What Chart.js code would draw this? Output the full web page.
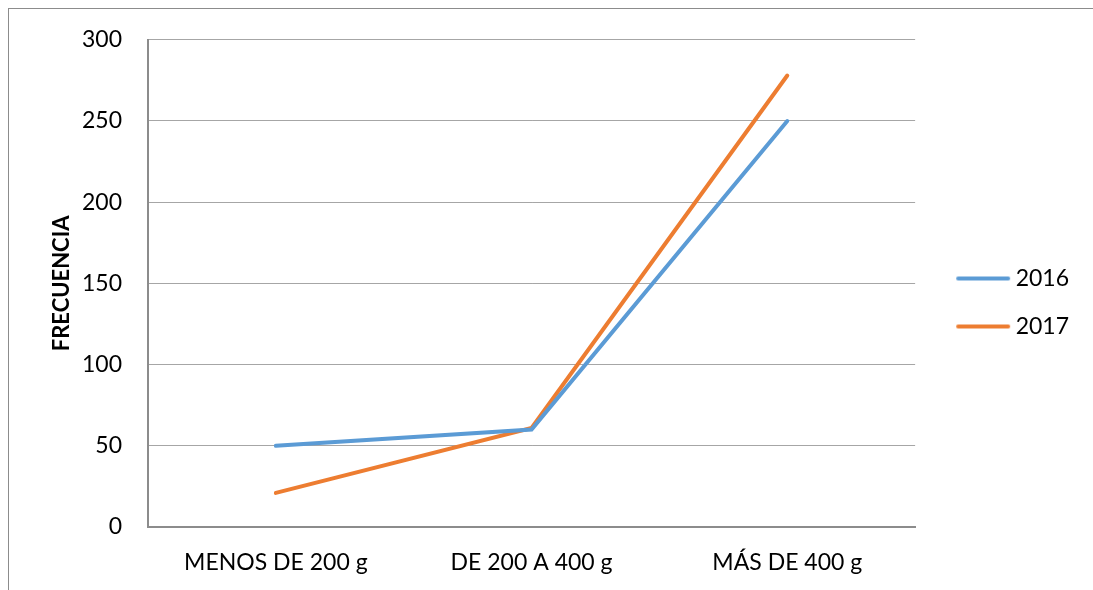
<!DOCTYPE html>
<html>
<head>
<meta charset="utf-8">
<script src="https://cdn.jsdelivr.net/npm/chart.js@4/dist/chart.umd.min.js"></script>
<style>
  html, body { margin: 0; padding: 0; background: #fff; }
  #wrap { width: 1093px; height: 590px; }
</style>
</head>
<body>
<div id="wrap"><canvas id="freqChart"></canvas></div>
<script>
var categories = ['MENOS DE 200 g', 'DE 200 A 400 g', 'MÁS DE 400 g'];
var serie2016 = [50, 60, 250];
var serie2017 = [21, 61, 278];
var yTicks = [0, 50, 100, 150, 200, 250, 300];

var blue = '#5b9bd5';
var orange = '#ed7d31';

Chart.defaults.font.family = 'Lato, "Open Sans", sans-serif';
Chart.defaults.font.size = 23;
Chart.defaults.color = '#000';

// legend marker: a short line with some empty space in front of it
function legendLine(color) {
    var c = document.createElement('canvas');
    c.width = 80;
    c.height = 6;
    var g = c.getContext('2d');
    g.strokeStyle = color;
    g.lineWidth = 4;
    g.lineCap = 'round';
    g.beginPath();
    g.moveTo(26, 3);
    g.lineTo(76, 3);
    g.stroke();
    return c;
}

// outer frame of the chart (cut off on the right and bottom in the original)
var framePlugin = {
    id: 'frame',
    beforeDraw: function(chart) {
        var c = chart.ctx;
        c.save();
        c.fillStyle = '#fff';
        c.fillRect(0, 0, chart.width, chart.height);
        c.strokeStyle = '#8c8c8c';
        c.lineWidth = 1;
        c.strokeRect(8.5, 8.5, 3000, 3000);
        c.restore();
    }
};

var ctx = document.getElementById('freqChart').getContext('2d');

var chart = new Chart(ctx, {
    type: 'line',
    data: {
        labels: categories,
        datasets: [{
            label: '2016',
            data: serie2016,
            borderColor: blue,
            backgroundColor: blue,
            borderWidth: 4,
            pointRadius: 0,
            pointStyle: legendLine(blue),
            tension: 0,
            borderCapStyle: 'round'
        }, {
            label: '2017',
            data: serie2017,
            borderColor: orange,
            backgroundColor: orange,
            borderWidth: 4,
            pointRadius: 0,
            pointStyle: legendLine(orange),
            tension: 0,
            borderCapStyle: 'round'
        }]
    },
    options: {
        responsive: true,
        maintainAspectRatio: false,
        animation: false,
        layout: {
            padding: { top: 25, left: 0, right: 14, bottom: 10 }
        },
        scales: {
            x: {
                offset: true,
                grid: { display: false, drawTicks: false },
                border: { color: '#8c8c8c', width: 2 },
                ticks: { padding: 22, maxRotation: 0 },
                afterFit: function(axis) { axis.height = 53; }
            },
            y: {
                min: 0,
                max: 300,
                afterBuildTicks: function(axis) {
                    axis.ticks = yTicks.map(function(v) { return { value: v }; });
                },
                grid: { color: '#a6a6a6', lineWidth: 1, drawTicks: false },
                border: { color: '#8c8c8c', width: 2 },
                ticks: { padding: 26 },
                title: {
                    display: true,
                    text: 'FRECUENCIA',
                    font: { weight: 'bold', size: 22 },
                    padding: { top: 49, bottom: 0 }
                },
                afterFit: function(axis) { axis.width = 148; }
            }
        },
        plugins: {
            legend: {
                position: 'right',
                labels: {
                    usePointStyle: true,
                    pointStyleWidth: 64,
                    padding: 25,
                    font: { size: 23 }
                }
            },
            tooltip: { enabled: false }
        }
    },
    plugins: [framePlugin]
});
</script>
</body>
</html>
